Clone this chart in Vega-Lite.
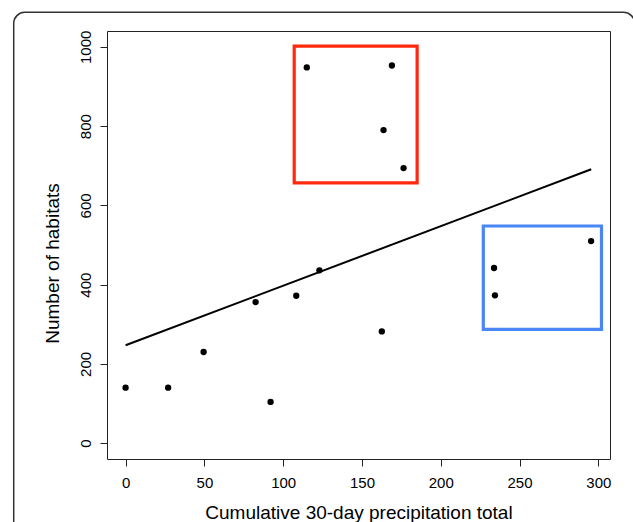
{
  "$schema": "https://vega.github.io/schema/vega-lite/v6.json",
  "width": 503,
  "height": 428,
  "autosize": {"type": "none"},
  "padding": {"left": 107, "top": 31, "right": 23, "bottom": 63},
  "background": "white",
  "config": {
    "view": {"stroke": "#222222", "strokeWidth": 1},
    "font": "Liberation Sans",
    "axis": {
      "grid": false,
      "domain": false,
      "tickColor": "#222222",
      "tickSize": 7,
      "tickWidth": 1,
      "labelColor": "black",
      "labelFontSize": 15,
      "labelFont": "Liberation Sans",
      "titleFont": "Liberation Sans",
      "titleFontSize": 19,
      "titleFontWeight": "normal",
      "titleColor": "black"
    }
  },
  "layer": [
    {
      "data": {"values": [{}]},
      "mark": {"type": "rect", "fill": null, "stroke": "#333333", "strokeWidth": 1.5, "cornerRadius": 11},
      "encoding": {
        "x": {"datum": -71, "type": "quantitative", "scale": {"domain": [-11.8, 307.4], "zero": false, "nice": false}},
        "x2": {"datum": 323},
        "y": {"datum": 1087, "type": "quantitative", "scale": {"domain": [-40, 1040], "zero": false, "nice": false}},
        "y2": {"datum": -300}
      }
    },
    {
      "data": {"values": [
        {"box": "high", "x1": 107, "x2": 185, "y1": 657, "y2": 1002},
        {"box": "low", "x1": 227, "x2": 302, "y1": 287, "y2": 548}
      ]},
      "mark": {"type": "rect", "fill": null, "strokeWidth": 3.2},
      "encoding": {
        "x": {"field": "x1", "type": "quantitative"},
        "x2": {"field": "x2"},
        "y": {"field": "y1", "type": "quantitative"},
        "y2": {"field": "y2"},
        "stroke": {"field": "box", "type": "nominal", "scale": {"domain": ["high", "low"], "range": ["#ff2a0e", "#4a86f5"]}, "legend": null}
      }
    },
    {
      "data": {"values": [{"x": 0, "y": 247}, {"x": 295.5, "y": 691}]},
      "mark": {"type": "line", "color": "black", "strokeWidth": 2},
      "encoding": {
        "x": {"field": "x", "type": "quantitative"},
        "y": {"field": "y", "type": "quantitative"}
      }
    },
    {
      "data": {"values": [
        {"x": 0, "y": 140},
        {"x": 27, "y": 140},
        {"x": 49.5, "y": 230},
        {"x": 92, "y": 104},
        {"x": 82.5, "y": 356},
        {"x": 108.3, "y": 372},
        {"x": 123, "y": 436},
        {"x": 162.6, "y": 282},
        {"x": 115, "y": 948},
        {"x": 169, "y": 953},
        {"x": 163.7, "y": 790},
        {"x": 176.4, "y": 694},
        {"x": 233.8, "y": 442},
        {"x": 234.4, "y": 373},
        {"x": 295.4, "y": 510}
      ]},
      "mark": {"type": "point", "filled": true, "color": "black", "opacity": 1, "size": 40},
      "encoding": {
        "x": {
          "field": "x", "type": "quantitative",
          "axis": {
            "values": [0, 50, 100, 150, 200, 250, 300],
            "format": "d",
            "title": "Cumulative 30-day precipitation total",
            "labelPadding": 9,
            "titleY": 59,
            "titleBaseline": "alphabetic"
          }
        },
        "y": {
          "field": "y", "type": "quantitative",
          "axis": {
            "values": [0, 200, 400, 600, 800, 1000],
            "format": "d",
            "title": "Number of habitats",
            "labelAngle": -90,
            "labelAlign": "center",
            "labelBaseline": "alphabetic",
            "labelPadding": 10,
            "titleAngle": -90,
            "titleAlign": "center",
            "titleBaseline": "alphabetic",
            "titleX": -49,
            "titleY": 232
          }
        }
      }
    }
  ]
}
